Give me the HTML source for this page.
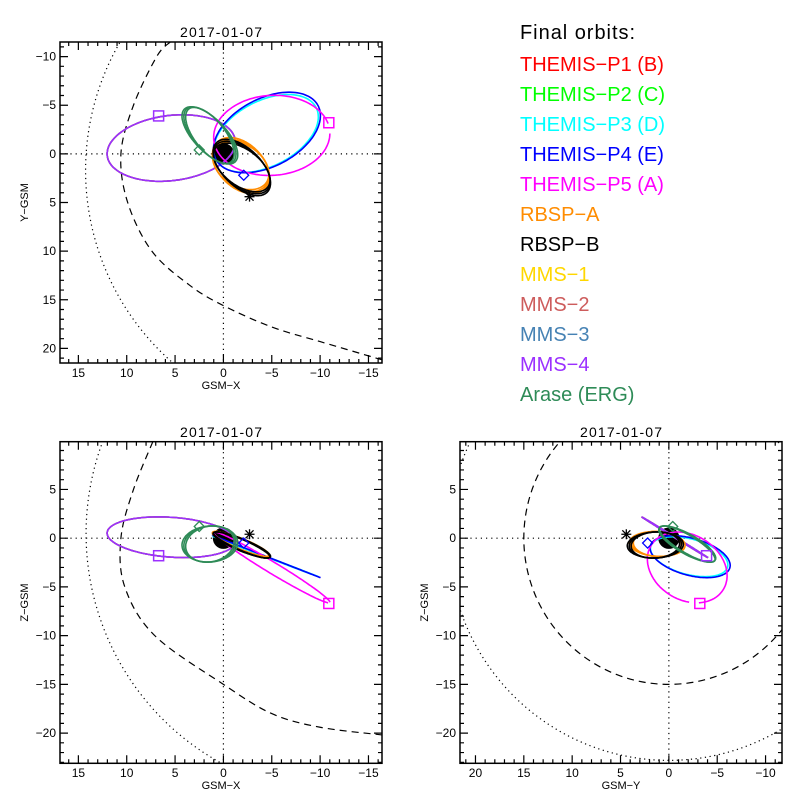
<!DOCTYPE html>
<html><head><meta charset="utf-8"><style>
html,body{margin:0;padding:0;background:#fff;}
svg{display:block;font-family:"Liberation Sans",sans-serif;}
</style></head><body>
<svg id="c" width="800" height="800" viewBox="0 0 800 800" xmlns="http://www.w3.org/2000/svg"></svg>
<script>
// ---- orbit data (GSM, Earth radii) ----
const orbitNames  = ["mms1","mms3","mms2","mms4","themis-p3","themis-p4","themis-p5","rbsp-a","rbsp-b","arase"];
const orbitColors = ["#ffd700","#4682b4","#cd5c5c","#9b30ff","#00ffff","#0000ff","#ff00ff","#ff8c00","#000000","#2e8b57"];
const centerX = [5.4,5.4,5.4,5.4,-4.4,-4.5,-5.0,-1.8,-1.9,1.4];
const centerY = [-0.6,-0.6,-0.6,-0.6,-2.1,-2.2,-1.9,1.2,1.4,-1.9];
const centerZ = [0.1,0.1,0.1,0.1,-1.9,-1.9,-3.0,-0.6,-0.7,-0.6];
const axisAX = [6.6,6.6,6.6,6.6,-5.3,-5.4,-6.0,-2.6,-2.7,2.2];
const axisAY = [0.9,0.9,0.9,0.9,-2.4,-2.5,-0.4,1.8,2.0,-2.7];
const axisAZ = [0.6,0.6,0.6,0.6,-2.0,-2.1,-3.6,-0.8,-0.9,-1.1];
const axisBX = [-0.6,-0.6,-0.6,-0.6,1.1,1.2,0.3,1.3,1.1,1.2];
const axisBY = [3.3,3.3,3.3,3.3,-3.2,-3.3,-4.1,1.7,1.5,1.0];
const axisBZ = [2.0,2.0,2.0,2.0,0.45,0.47,-0.5,1.0,1.0,1.5];
const loops  = [1,1,1,1,1,1,1,3,3,3];
// markers
const markerType = ["square","square","diamond","diamond","star"];
const markerColor= ["#9b30ff","#ff00ff","#0000ff","#2e8b57","#000000"];
const markerX = [6.7,-10.9,-2.1,2.5,-2.7];
const markerY = [-3.9,-3.2,2.2,-0.4,4.4];
const markerZ = [-1.8,-6.7,-0.5,1.2,0.4];
// model boundaries
const mpXY_x=[10.86,14.2,5.33], mpXY_y=[-11.2,0,21.4];
const bsXY_x=[5.5,6.9,9.3,10.6,9.9,7.4,3.5,0,-5,-10,-16.5], bsXY_y=[-11.5,-10,-5,0,5,10,13.5,15.6,17.8,19.3,21.2];
const mpXZ_x=[12.6,14.2,0.2], mpXZ_z=[9.6,0,-23.1];
const bsXZ_x=[7.3,9.3,10.6,10.2,7.1,0,-5,-10,-16.5], bsXZ_z=[9.9,5,0,-5,-10,-15,-18,-19.4,-20.2];
const mpYZ_r=22.8, bsYZ_r=15.0;
const legendLabels=["THEMIS\u2212P1 (B)","THEMIS\u2212P2 (C)","THEMIS\u2212P3 (D)","THEMIS\u2212P4 (E)","THEMIS\u2212P5 (A)","RBSP\u2212A","RBSP\u2212B","MMS\u22121","MMS\u22122","MMS\u22123","MMS\u22124","Arase (ERG)"];
const legendColors=["#ff0000","#00ff00","#00ffff","#0000ff","#ff00ff","#ff8c00","#000000","#ffd700","#cd5c5c","#4682b4","#9b30ff","#2e8b57"];
const xTicks=[15,10,5,0,-5,-10,-15], yTicks=[-10,-5,0,5,10,15,20], zTicks=[5,0,-5,-10,-15,-20], yhTicks=[20,15,10,5,0,-5,-10];

const NS="http://www.w3.org/2000/svg", svg=document.getElementById('c');
function mk(tag,attrs,parent){const e=document.createElementNS(NS,tag);for(const k in attrs)e.setAttribute(k,attrs[k]);(parent||svg).appendChild(e);return e;}
const panels=[
 {id:"xy",L:60,R:382,T:42,B:363,h0:16.9,h1:-16.4,v0:-11.5,v1:21.5,hi:0,vi:1,hT:xTicks,vT:yTicks,hl:"GSM\u2212X",vl:"Y\u2212GSM",ty:37,tly:377,hly:389},
 {id:"xz",L:60,R:382,T:441.7,B:763.3,h0:16.9,h1:-16.4,v0:9.9,v1:-23.1,hi:0,vi:2,hT:xTicks,vT:zTicks,hl:"GSM\u2212X",vl:"Z\u2212GSM",ty:437,tly:777,hly:789},
 {id:"yz",L:460,R:782,T:441.7,B:763.3,h0:21.6,h1:-11.7,v0:9.9,v1:-23.1,hi:1,vi:2,hT:yhTicks,vT:zTicks,hl:"GSM\u2212Y",vl:"Z\u2212GSM",ty:437,tly:777,hly:789}
];
function sx(p,v){return p.L+(v-p.h0)/(p.h1-p.h0)*(p.R-p.L);}
function sy(p,v){return p.T+(v-p.v0)/(p.v1-p.v0)*(p.B-p.T);}
function smooth(pts){let d="M"+pts[0][0]+","+pts[0][1];for(let i=0;i<pts.length-1;i++){const p0=pts[Math.max(0,i-1)],p1=pts[i],p2=pts[i+1],p3=pts[Math.min(pts.length-1,i+2)];d+=" C"+(p1[0]+(p2[0]-p0[0])/6)+","+(p1[1]+(p2[1]-p0[1])/6)+" "+(p2[0]-(p3[0]-p1[0])/6)+","+(p2[1]-(p3[1]-p1[1])/6)+" "+p2[0]+","+p2[1];}return d;}
function circ3(xs,ys){const [x1,x2,x3]=xs,[y1,y2,y3]=ys;const d=2*(x1*(y2-y3)+x2*(y3-y1)+x3*(y1-y2));
 const ux=((x1*x1+y1*y1)*(y2-y3)+(x2*x2+y2*y2)*(y3-y1)+(x3*x3+y3*y3)*(y1-y2))/d;
 const uy=((x1*x1+y1*y1)*(x3-x2)+(x2*x2+y2*y2)*(x1-x3)+(x3*x3+y3*y3)*(x2-x1))/d;
 return [ux,uy,Math.hypot(x1-ux,y1-uy)];}

panels.forEach((p,pi)=>{
 const g=mk('g',{});
 
 
 const cp=mk('clipPath',{id:'clip'+pi},g);mk('rect',{x:p.L,y:p.T,width:p.R-p.L,height:p.B-p.T},cp);
 const pl=mk('g',{'clip-path':'url(#clip'+pi+')'},g);
 const zh=mk('line',{x1:p.L,x2:p.R,y1:sy(p,0),y2:sy(p,0),stroke:'#000','stroke-width':1.2,'stroke-dasharray':'1.2 4'},pl);
 
 const zv=mk('line',{y1:p.T,y2:p.B,x1:sx(p,0),x2:sx(p,0),stroke:'#000','stroke-width':1.2,'stroke-dasharray':'1.2 4'},pl);
 
 let mpc=null,bs=null;
 if(p.id==="xy"){mpc=circ3(mpXY_x,mpXY_y);bs=bsXY_x.map((v,i)=>[sx(p,v),sy(p,bsXY_y[i])]);}
 else if(p.id==="xz"){mpc=circ3(mpXZ_x,mpXZ_z);bs=bsXZ_x.map((v,i)=>[sx(p,v),sy(p,bsXZ_z[i])]);}
 else {mpc=[0,0,mpYZ_r];}
 {const cx=sx(p,mpc[0]),cy=sy(p,mpc[1]);
  const a=mk('ellipse',{cx:cx,cy:cy,rx:Math.abs(sx(p,mpc[0]+mpc[2])-cx),ry:Math.abs(sy(p,mpc[1]+mpc[2])-cy),fill:'none',stroke:'#000','stroke-width':1.2,'stroke-dasharray':'1.2 3.5'},pl);
  }
 if(bs){
  const b=mk('path',{d:smooth(bs),fill:'none',stroke:'#000','stroke-width':1.2,'stroke-dasharray':'7 5'},pl);
  
 } else {
  const cx=sx(p,0),cy=sy(p,0);
  const b=mk('ellipse',{cx:cx,cy:cy,rx:Math.abs(sx(p,bsYZ_r)-cx),ry:Math.abs(sy(p,bsYZ_r)-cy),fill:'none',stroke:'#000','stroke-width':1.2,'stroke-dasharray':'7 5'},pl);
  
 }
 const e=mk('ellipse',{cx:sx(p,0),cy:sy(p,0),rx:Math.abs(sx(p,1.1)-sx(p,0)),ry:Math.abs(sy(p,1.1)-sy(p,0)),fill:'#000'},pl);
 
 orbitNames.forEach((n,i)=>{
  const C=[centerX[i],centerY[i],centerZ[i]],A=[axisAX[i],axisAY[i],axisAZ[i]],B=[axisBX[i],axisBY[i],axisBZ[i]];
  for(let k=0;k<loops[i];k++){
   const s=1+0.04*k, rot=0.08*k;
   let d="";
   const t0=(n==="themis-p5")?0.2:0, t1=(n==="themis-p5")?2*Math.PI-0.05:2*Math.PI;
   for(let j=0;j<=160;j++){const t=t0+(t1-t0)*j/160;
    const P=[0,1,2].map(q=>C[q]+s*(A[q]*Math.cos(t)+B[q]*Math.sin(t+rot)));
    d+=(j?"L":"M")+sx(p,P[p.hi]).toFixed(1)+","+sy(p,P[p.vi]).toFixed(1);}
   const o=mk('path',{d:d,fill:'none',stroke:orbitColors[i],'stroke-width':1.6},pl);
   
   
  }
 });
 markerType.forEach((m,i)=>{
  const P=[markerX[i],markerY[i],markerZ[i]];const x=sx(p,P[p.hi]),y=sy(p,P[p.vi]);let el;
  if(m==="square")el=mk('rect',{x:x-5,y:y-5,width:10,height:10,fill:'none',stroke:markerColor[i],'stroke-width':1.5},pl);
  else if(m==="diamond")el=mk('path',{d:`M${x},${y-5}L${x+5},${y}L${x},${y+5}L${x-5},${y}Z`,fill:'none',stroke:markerColor[i],'stroke-width':1.3},pl);
  else el=mk('path',{d:`M${x-5},${y}H${x+5}M${x},${y-5}V${y+5}M${x-4},${y-4}L${x+4},${y+4}M${x-4},${y+4}L${x+4},${y-4}`,stroke:markerColor[i],'stroke-width':1.3},pl);
  
  
 });
 const fr=mk('rect',{x:p.L,y:p.T,width:p.R-p.L,height:p.B-p.T,fill:'none',stroke:'#000','stroke-width':1.5},g);
 
 let td="";
 const hmin=Math.ceil(Math.min(p.h0,p.h1)),hmax=Math.floor(Math.max(p.h0,p.h1));
 for(let v=hmin;v<=hmax;v++){const L=(v%5===0)?8:4,x=sx(p,v);td+=`M${x},${p.B}v${-L}M${x},${p.T}v${L}`;}
 const vmin=Math.ceil(Math.min(p.v0,p.v1)),vmax=Math.floor(Math.max(p.v0,p.v1));
 for(let v=vmin;v<=vmax;v++){const L=(v%5===0)?8:4,y=sy(p,v);td+=`M${p.L},${y}h${L}M${p.R},${y}h${-L}`;}
 const tk=mk('path',{d:td,stroke:'#000','stroke-width':1.2,fill:'none'},g);
 
 p.hT.forEach(v=>{const t=mk('text',{x:sx(p,v),y:p.tly,'font-size':12,'text-anchor':'middle'},g);t.textContent=v<0?"\u2212"+(-v):String(v);
  });
 p.vT.forEach(v=>{const t=mk('text',{x:p.L-4,y:sy(p,v)+4,'font-size':12,'text-anchor':'end'},g);t.textContent=v<0?"\u2212"+(-v):String(v);
  });
 const ti=mk('text',{x:(p.L+p.R)/2,y:p.ty,'font-size':14,'text-anchor':'middle',textLength:82},g);ti.textContent="2017-01-07";
 
 const hl=mk('text',{x:(p.L+p.R)/2,y:p.hly,'font-size':11,'text-anchor':'middle'},g);hl.textContent=p.hl;
 
 const vy=(p.T+p.B)/2, vx=(p.id==="yz")?428:28;
 const vl=mk('text',{x:vx,y:vy,'font-size':11,'text-anchor':'middle',transform:`rotate(-90 ${vx} ${vy})`},g);
 vl.textContent=p.vl;
 
});
const lg=mk('g',{});

const lt=mk('text',{x:520,y:39,'font-size':20,fill:'#000',textLength:115},lg);lt.textContent="Final orbits:";

legendLabels.forEach((s,i)=>{const t=mk('text',{x:520,y:71+30*i,'font-size':20,fill:legendColors[i]},lg);t.textContent=s;
 });
</script>
</body></html>
